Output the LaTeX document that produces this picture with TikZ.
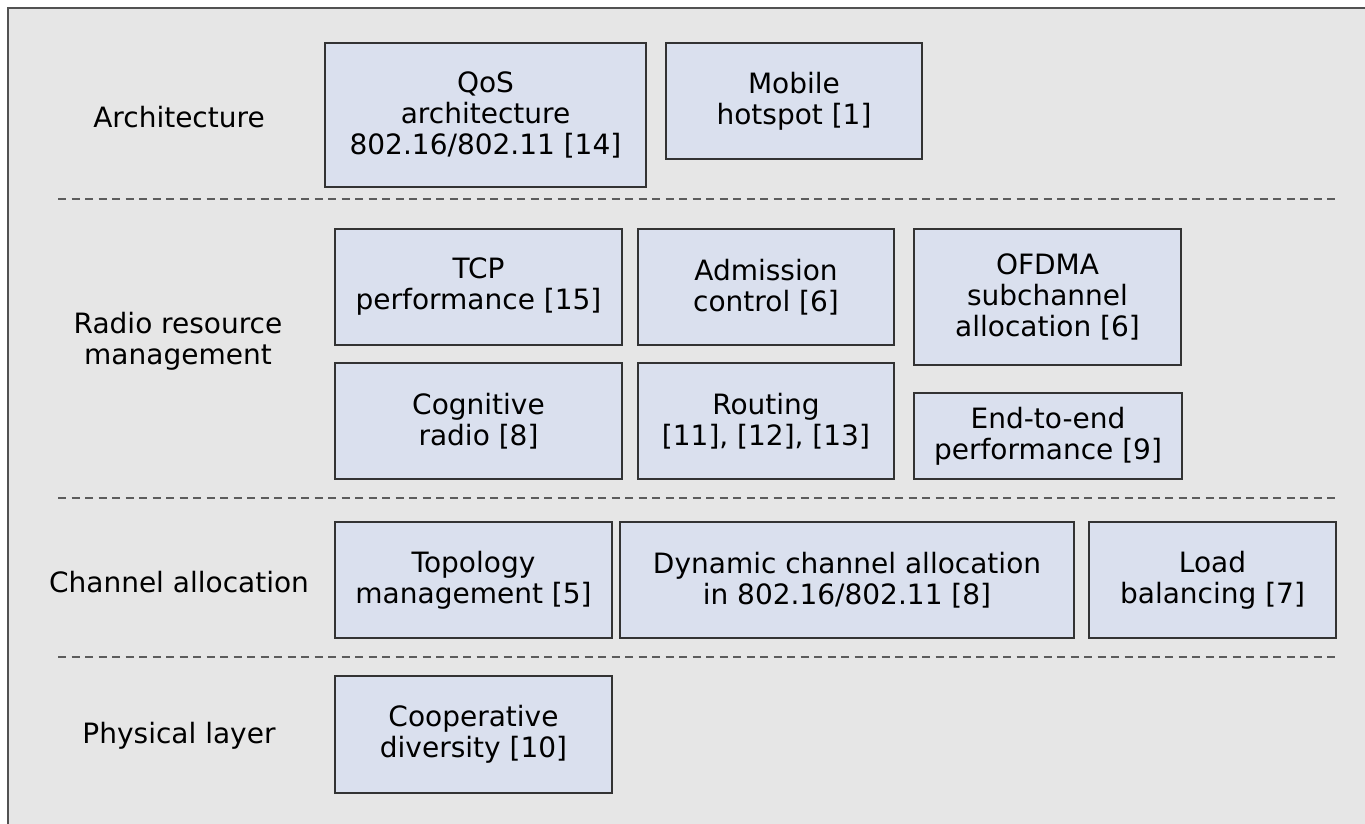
\documentclass[tikz,border=0pt]{standalone}
\usepackage{fontspec}
\setmainfont{DejaVu Sans}
\usetikzlibrary{calc}
\newcommand*{\px}{0.5pt}
\definecolor{panelgray}{HTML}{E6E6E6}
\definecolor{boxblue}{HTML}{DAE0EE}
\definecolor{boxline}{HTML}{333333}
\tikzset{
  topic/.style={draw=boxline, line width=1.5*\px, fill=boxblue, align=center, inner sep=0pt},
  layername/.style={align=center},
  sepline/.style={draw=boxline!80, line width=1.5*\px, dash pattern=on 8*\px off 5.5*\px}
}

\begin{document}
\begin{tikzpicture}[x=\px, y=-\px, font=\fontsize{14}{15.5}\selectfont]
    \useasboundingbox (0,0) rectangle (1365,824);
    \clip (0,0) rectangle (1365,824);
    \draw [fill=panelgray, draw=boxline!85, line width=2*\px] (8,8) rectangle (1400,860);

    % layer names
    \node [layername] (arch) at (179,117) {Architecture};
    \node [layername] (rrm)  at (178,341) {Radio resource\\management};
    \node [layername] (chan) at (179,582) {Channel allocation};
    \node [layername] (phy)  at (179,736) {Physical layer};

    % separators
    \coordinate (s1a) at (58,199);  \coordinate (s1b) at (1336,199);
    \coordinate (s2a) at (58,498);  \coordinate (s2b) at (1336,498);
    \coordinate (s3a) at (58,657);  \coordinate (s3b) at (1336,657);
    \draw [sepline] (s1a) -- (s1b);
    \draw [sepline] (s2a) -- (s2b);
    \draw [sepline] (s3a) -- (s3b);

    % architecture
    \node [topic, minimum width=321*\px, minimum height=144*\px] (qos)     at (485.5,115) {QoS\\architecture\\802.16/802.11 [14]};
    \node [topic, minimum width=256*\px, minimum height=116*\px] (hotspot) at (794,101)   {Mobile\\hotspot [1]};

    % radio resource management
    \node [topic, minimum width=287*\px, minimum height=116*\px] (tcp)       at (478.5,287) {TCP\\performance [15]};
    \node [topic, minimum width=256*\px, minimum height=116*\px] (admission) at (766,287)   {Admission\\control [6]};
    \node [topic, minimum width=267*\px, minimum height=136*\px] (ofdma)     at (1047.5,297) {OFDMA\\subchannel\\allocation [6]};
    \node [topic, minimum width=287*\px, minimum height=116*\px] (cognitive) at (478.5,421) {Cognitive\\radio [8]};
    \node [topic, minimum width=256*\px, minimum height=116*\px] (routing)   at (766,421)   {Routing\\{[11], [12], [13]}};
    \node [topic, minimum width=268*\px, minimum height=86*\px]  (endtoend)  at (1048,436)  {End-to-end\\performance [9]};

    % channel allocation
    \node [topic, minimum width=277*\px, minimum height=116*\px] (topology) at (473.5,580) {Topology\\management [5]};
    \node [topic, minimum width=454*\px, minimum height=116*\px] (dynamic)  at (847,580)   {Dynamic channel allocation\\in 802.16/802.11 [8]};
    \node [topic, minimum width=247*\px, minimum height=116*\px] (load)     at (1212.5,580) {Load\\balancing [7]};

    % physical layer
    \node [topic, minimum width=277*\px, minimum height=117*\px] (coop) at (473.5,734.5) {Cooperative\\diversity [10]};
\end{tikzpicture}
\end{document}
